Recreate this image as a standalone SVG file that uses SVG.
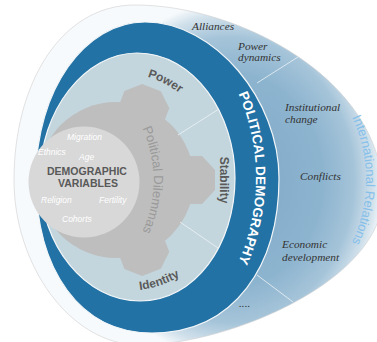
<svg xmlns="http://www.w3.org/2000/svg" width="377" height="342" viewBox="0 0 377 342">
<defs>
<radialGradient id="paleGrad" gradientUnits="userSpaceOnUse" cx="230" cy="180" r="155" gradientTransform="translate(230 180) scale(1 1.15) translate(-230 -180)">
<stop offset="0" stop-color="#7fa9c8"/>
<stop offset="0.6" stop-color="#8db4cf"/>
<stop offset="0.8" stop-color="#a5c4d9"/>
<stop offset="0.93" stop-color="#d3e2ec"/>
<stop offset="1" stop-color="#f7fafc"/>
</radialGradient>
<path id="arcPD" d="M234.7,85.9 A210,210 0 0 1 234.7,270.1"/>
<path id="arcIR" d="M346.3,106.5 A147,147 0 0 1 346.3,253.5"/>
<path id="arcPower" d="M116,72 A106,106 0 0 1 201.8,115.7"/>
<path id="arcIdentity" d="M104,289 A111,111 0 0 0 207.7,254"/>
<path id="arcPDil" d="M136.7,117.25 A125.5,125.5 0 0 1 136.7,242.75"/>
<polygon id="tooth" points="60,-24 86,-24 99,-10 99,10 86,24 60,24"/>
</defs>
<style>
.serif{font-family:"Liberation Serif","Times New Roman",serif;font-style:italic;font-size:11.3px;fill:#333}
.lbl{font-family:"Liberation Sans",Arial,sans-serif;font-weight:bold;font-size:12px;fill:#5a5a5a}
.var{font-family:"Liberation Sans",Arial,sans-serif;font-style:italic;font-size:8.5px;fill:#ffffff}
.dv{font-family:"Liberation Sans",Arial,sans-serif;font-weight:bold;font-size:10.5px;fill:#595959}
.sep{stroke:#eef4f7;stroke-width:1;opacity:0.8}
</style>

<g id="outer-region">
<path d="M14,180 C14,85 60,5 135,5 C240,5 383,80 383,195 C383,280 230,345 140,345 C70,345 14,265 14,180 Z" fill="url(#paleGrad)" stroke="#cfcfcf" stroke-width="0.6"/>
</g>

<g id="political-demography-ring">
<path d="M36,178 C36,90 85,22 145,22 C215,22 279,100 279,178 C279,265 235,333 152,333 C80,333 36,270 36,178 Z" fill="#2372a5" stroke="#f2f6f8" stroke-width="1.2"/>
</g>

<g id="inner-area">
<path d="M40,178 C40,110 85,53 137,53 C195,53 235,115 235,178 C235,245 195,301 140,301 C85,301 40,245 40,178 Z" fill="#c4d6dd" stroke="#f2f6f8" stroke-width="1.2"/>
</g>

<g id="gear" fill="#bebebe">
<circle cx="116" cy="180" r="78"/>
<use href="#tooth" transform="translate(116 180) rotate(-69)"/>
<use href="#tooth" transform="translate(116 180)"/>
<use href="#tooth" transform="translate(116 180) rotate(69)"/>
<text font-family="Liberation Sans, Arial, sans-serif" font-size="13" fill="#9a9a9a" text-anchor="middle"><textPath href="#arcPDil" startOffset="50%">Political Dilemmas</textPath></text>
</g>

<g id="demographic-variables">
<circle cx="84" cy="182" r="55.5" fill="#d8d8d8"/>
<text class="var" x="67" y="140">Migration</text>
<text class="var" x="38" y="155">Ethnics</text>
<text class="var" x="79" y="160">Age</text>
<text class="dv" x="87" y="175" text-anchor="middle">DEMOGRAPHIC</text>
<text class="dv" x="88" y="187" text-anchor="middle">VARIABLES</text>
<text class="var" x="41" y="203">Religion</text>
<text class="var" x="99" y="203">Fertility</text>
<text class="var" x="62" y="222">Cohorts</text>
</g>

<g id="connectors">
<line class="sep" x1="178" y1="135" x2="219" y2="109"/>
<line class="sep" x1="180" y1="222" x2="218" y2="248"/>
<line class="sep" x1="257" y1="83" x2="298" y2="57"/>
<line class="sep" x1="257" y1="275" x2="293" y2="302"/>
</g>

<g id="inner-labels">
<text class="lbl" text-anchor="middle"><textPath href="#arcPower" startOffset="50%">Power</textPath></text>
<text class="lbl" x="220" y="180" text-anchor="middle" transform="rotate(90 220 180)">Stability</text>
<text class="lbl" text-anchor="middle"><textPath href="#arcIdentity" startOffset="50%">Identity</textPath></text>
</g>

<g id="ring-label">
<text font-family="Liberation Sans, Arial, sans-serif" font-weight="bold" font-size="13.5" fill="#ffffff" text-anchor="middle"><textPath href="#arcPD" startOffset="50%">POLITICAL DEMOGRAPHY</textPath></text>
</g>

<g id="international-relations">
<text font-family="Liberation Sans, Arial, sans-serif" font-size="13" fill="#86c0ea" text-anchor="middle"><textPath href="#arcIR" startOffset="50%">International Relations</textPath></text>
<text class="serif" x="192" y="30">Alliances</text>
<text class="serif" x="238" y="50">Power</text>
<text class="serif" x="238" y="61">dynamics</text>
<text class="serif" x="285" y="111">Institutional</text>
<text class="serif" x="285" y="123">change</text>
<text class="serif" x="300" y="180">Conflicts</text>
<text class="serif" x="282" y="248">Economic</text>
<text class="serif" x="282" y="261">development</text>
<text class="serif" x="239" y="307" font-size="9">....</text>
</g>
</svg>
